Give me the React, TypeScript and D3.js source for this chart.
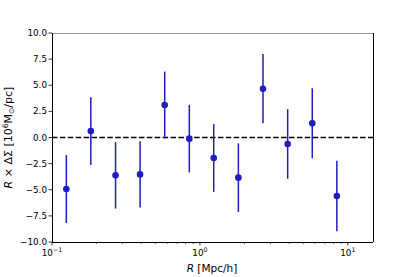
import React, { useEffect, useRef } from "react";
import * as d3 from "d3";

const radius = [0.125, 0.183, 0.269, 0.394, 0.578, 0.848, 1.24, 1.82, 2.67, 3.92, 5.75, 8.43];
const signal = [-4.93, 0.62, -3.62, -3.53, 3.11, -0.11, -1.96, -3.84, 4.67, -0.62, 1.36, -5.6];
const errors = [3.25, 3.24, 3.18, 3.17, 3.2, 3.23, 3.24, 3.28, 3.31, 3.33, 3.35, 3.38];
const yTicks = [-10, -7.5, -5, -2.5, 0, 2.5, 5, 7.5, 10];
const xDecades = [0.1, 1, 10];

const App: React.FC = () => {
  const svgRef = useRef<SVGSVGElement>(null);

  useEffect(() => {
    const svg = d3.select(svgRef.current);
    svg.selectAll("*").remove();

    const left = 52;
    const right = 373;
    const top = 33;
    const bottom = 242;
    const font = "DejaVu Sans, sans-serif";
    const blue = "#1e1ebe";

    const x = d3.scaleLog().domain([0.1, 14.8]).range([left, right]);
    const y = d3.scaleLinear().domain([-10, 10]).range([bottom, top]);

    svg.append("rect").attr("width", 415).attr("height", 277).attr("fill", "white");

    // zero line
    svg
      .append("line")
      .attr("x1", left)
      .attr("x2", right)
      .attr("y1", y(0))
      .attr("y2", y(0))
      .attr("stroke", "black")
      .attr("stroke-width", 1.5)
      .attr("stroke-dasharray", "5.5,2.4");

    // error bars
    const pts = radius.map((r, i) => ({ r, v: signal[i], e: errors[i] }));
    svg
      .append("g")
      .selectAll("line")
      .data(pts)
      .join("line")
      .attr("x1", (d) => x(d.r))
      .attr("x2", (d) => x(d.r))
      .attr("y1", (d) => y(d.v - d.e))
      .attr("y2", (d) => y(d.v + d.e))
      .attr("stroke", blue)
      .attr("stroke-width", 1.5);

    svg
      .append("g")
      .selectAll("circle")
      .data(pts)
      .join("circle")
      .attr("cx", (d) => x(d.r))
      .attr("cy", (d) => y(d.v))
      .attr("r", 3.3)
      .attr("fill", blue);

    // spines
    const spine = (x1: number, y1: number, x2: number, y2: number, c: string) =>
      svg
        .append("line")
        .attr("x1", x1)
        .attr("y1", y1)
        .attr("x2", x2)
        .attr("y2", y2)
        .attr("stroke", c)
        .attr("stroke-width", 1)
        .attr("shape-rendering", "crispEdges");
    spine(left, top, right, top, "#999");
    spine(right, top, right, bottom, "black");
    spine(left, top, left, bottom, "black");
    spine(left, bottom, right, bottom, "black");

    // y ticks
    const yg = svg.append("g");
    yTicks.forEach((t) => {
      yg.append("line")
        .attr("x1", left - 3.5)
        .attr("x2", left)
        .attr("y1", y(t))
        .attr("y2", y(t))
        .attr("stroke", "black")
        .attr("stroke-width", 0.8);
      yg.append("text")
        .attr("x", left - 5)
        .attr("y", y(t))
        .attr("dy", "0.35em")
        .attr("text-anchor", "end")
        .attr("font-family", font)
        .attr("font-size", 8.8)
        .text(t < 0 ? "\u2212" + Math.abs(t).toFixed(1) : t.toFixed(1));
    });

    // x ticks, major and minor
    const xg = svg.append("g");
    const [d0, d1] = x.domain();
    for (let p = 0.1; p <= 10; p *= 10) {
      for (let m = 1; m <= 9; m++) {
        const v = p * m;
        if (v < d0 * 0.999 || v > d1) continue;
        xg.append("line")
          .attr("x1", x(v))
          .attr("x2", x(v))
          .attr("y1", bottom)
          .attr("y2", bottom + (m === 1 ? 3.5 : 2))
          .attr("stroke", "black")
          .attr("stroke-width", m === 1 ? 0.8 : 0.6);
      }
    }
    xDecades.forEach((v) => {
      const t = xg
        .append("text")
        .attr("x", x(v))
        .attr("y", bottom + 14)
        .attr("text-anchor", "middle")
        .attr("font-family", font)
        .attr("font-size", 8.8);
      t.append("tspan").text("10");
      t.append("tspan")
        .attr("dy", -3.7)
        .attr("font-size", 6.3)
        .text(v < 1 ? "\u22121" : v === 1 ? "0" : "1");
    });

    // axis labels
    const xl = svg
      .append("text")
      .attr("x", 212)
      .attr("y", 272)
      .attr("text-anchor", "middle")
      .attr("font-family", font)
      .attr("font-size", 10.5);
    xl.append("tspan").attr("font-style", "italic").text("R");
    xl.append("tspan").text(" [Mpc/h]");

    const yl = svg
      .append("text")
      .attr("transform", `translate(12, ${(top + bottom) / 2}) rotate(-90)`)
      .attr("text-anchor", "middle")
      .attr("font-family", font)
      .attr("font-size", 11);
    yl.append("tspan").attr("font-style", "italic").text("R");
    yl.append("tspan").text(" \u00d7 \u0394\u03a3 [10");
    yl.append("tspan").attr("dy", -4.5).attr("font-size", 7.5).text("6");
    yl.append("tspan").attr("dy", 4.5).text("M");
    yl.append("tspan").attr("dy", 2).attr("font-size", 7.5).text("\u2299");
    yl.append("tspan").attr("dy", -2).text("/pc]");
  }, []);

  return (
    <svg
      ref={svgRef}
      width={415}
      height={277}
      style={{ display: "block", position: "absolute", left: 0, top: 0 }}
    />
  );
};

export default App;
